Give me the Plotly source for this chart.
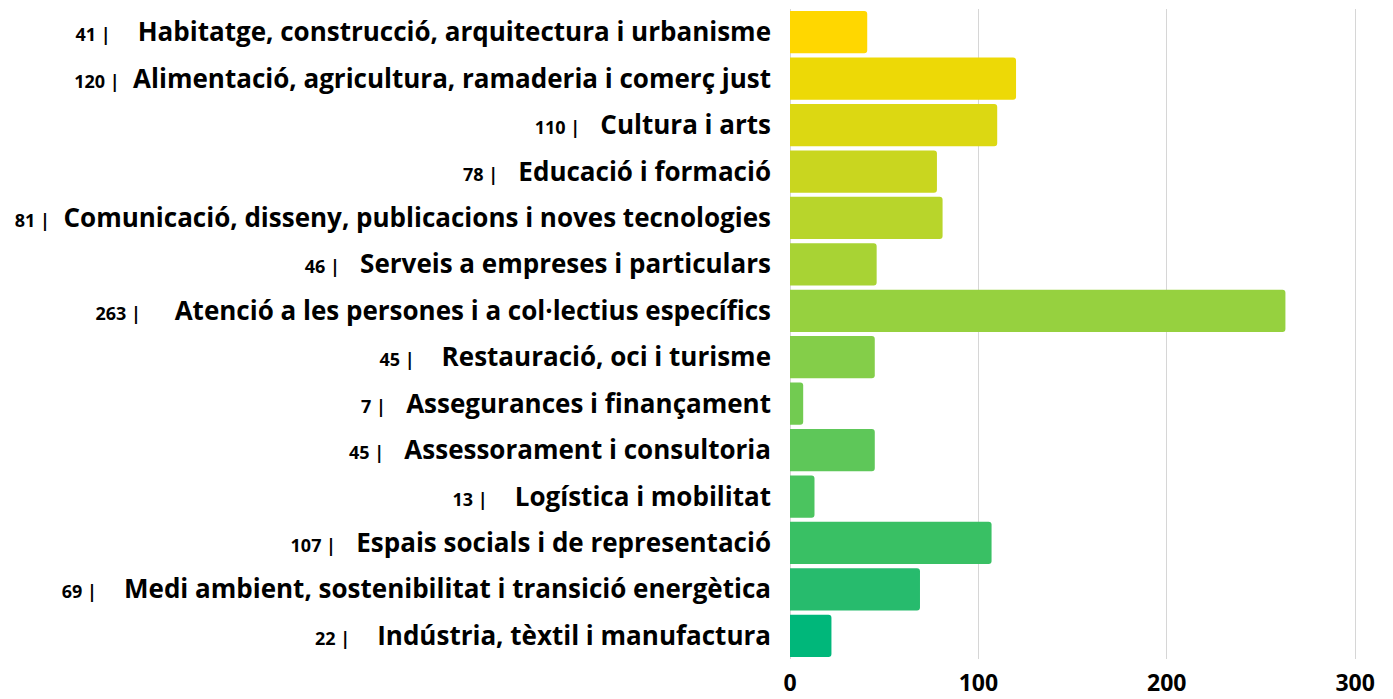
import plotly.graph_objects as go

# ── Data ──────────────────────────────────────────────────────────────────────
CATEGORIES = [
    "Habitatge, construcció, arquitectura i urbanisme",
    "Alimentació, agricultura, ramaderia i comerç just",
    "Cultura i arts",
    "Educació i formació",
    "Comunicació, disseny, publicacions i noves tecnologies",
    "Serveis a empreses i particulars",
    "Atenció a les persones i a col·lectius específics",
    "Restauració, oci i turisme",
    "Assegurances i finançament",
    "Assessorament i consultoria",
    "Logística i mobilitat",
    "Espais socials i de representació",
    "Medi ambient, sostenibilitat i transició energètica",
    "Indústria, tèxtil i manufactura",
]
VALUES = [41, 120, 110, 78, 81, 46, 263, 45, 7, 45, 13, 107, 69, 22]
X_TICKS = [0, 100, 200, 300]

# ── Style ─────────────────────────────────────────────────────────────────────
BAR_COLOURS = [
    "#FFD700", "#EDD906", "#DCD812", "#C9D61F", "#B8D52B", "#A8D334", "#96D13F",
    "#84CE49", "#72CB51", "#5EC759", "#4BC45F", "#39C064", "#27BB6D", "#00B77A",
]
GAPS = [4, 2, 3, 3, 2, 3, 5, 4, 3, 3, 4, 3, 4, 4]
GRID_COLOUR = "#d6d6d6"
NBSP = "\u00a0"


def _label(n, cat, gap):
    num = f"<span style='font-size:18px'><b>{n}{NBSP}|</b></span>"
    return num + NBSP * gap + cat


labels = [_label(n, c, g) for n, c, g in zip(VALUES, CATEGORIES, GAPS)]

fig = go.Figure(
    go.Bar(
        x=VALUES,
        y=labels,
        orientation="h",
        marker=dict(color=BAR_COLOURS, line=dict(width=0)),
        hoverinfo="skip",
    )
)

# page body adds an 8px margin, so the figure is 8px smaller on each axis
fig.update_layout(
    width=1385,
    height=691,
    paper_bgcolor="white",
    plot_bgcolor="white",
    margin=dict(l=782, r=36, t=1, b=40),
    bargap=0.09,
    barcornerradius=3,
    showlegend=False,
    font=dict(family="Open Sans", color="#000000"),
)
fig.update_xaxes(
    range=[0, 301],
    tickvals=X_TICKS,
    showgrid=True,
    gridcolor=GRID_COLOUR,
    gridwidth=1,
    zeroline=True,
    zerolinecolor=GRID_COLOUR,
    zerolinewidth=1,
    tickfont=dict(size=23, weight="bold", family="Open Sans"),
    ticklabelstandoff=8,
    automargin=False,
)
fig.update_yaxes(
    autorange="reversed",
    showgrid=False,
    tickfont=dict(size=26, weight="bold", family="Open Sans"),
    ticklabelstandoff=18,
    automargin=False,
)

fig.write_html("out.html")
